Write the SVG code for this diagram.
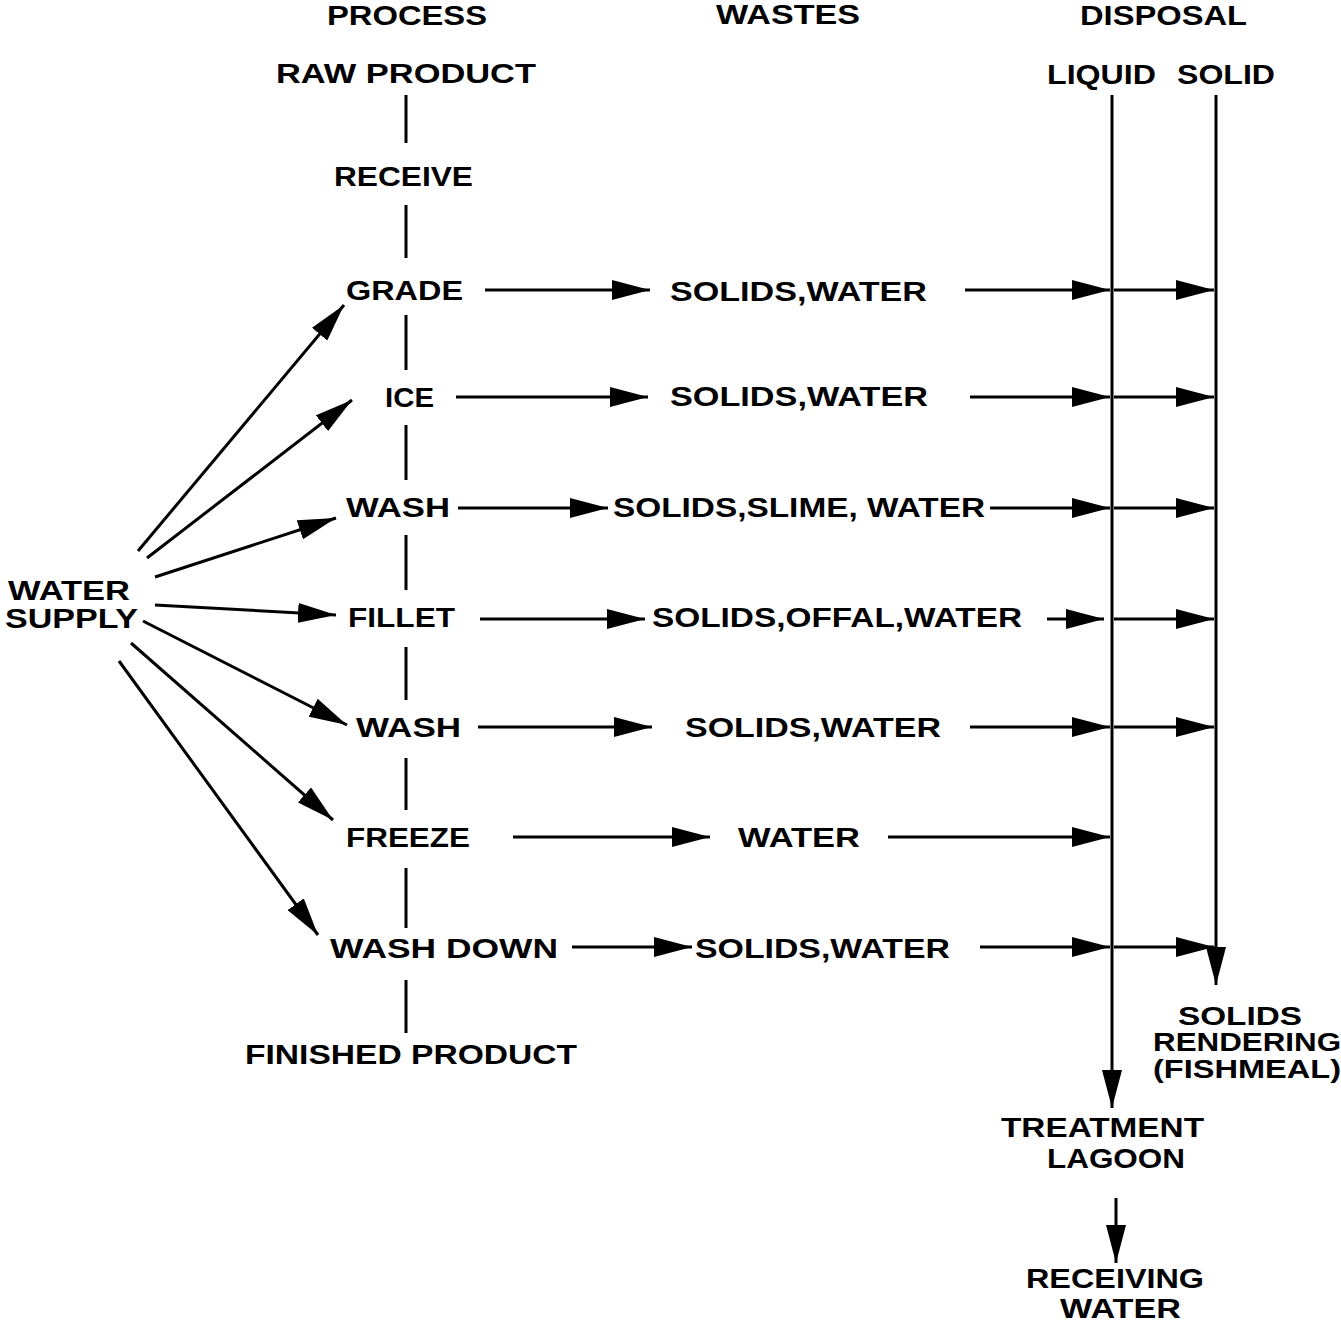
<svg xmlns="http://www.w3.org/2000/svg" width="1341" height="1328" viewBox="0 0 1341 1328">
<style>
text{font-family:"Liberation Sans",Arial,sans-serif;font-weight:bold;font-size:27px;fill:#000}
.s{font-size:25px}
.l{stroke:#000;stroke-width:3;fill:none}
.a{stroke:#000;stroke-width:3;fill:none;marker-end:url(#ah)}
</style>
<defs>
<marker id="ah" viewBox="0 0 38 20" refX="38" refY="10" markerWidth="38" markerHeight="20" markerUnits="userSpaceOnUse" orient="auto">
<path d="M0,0 L38,10 L0,20 z" fill="#000"/>
</marker>
</defs>
<rect width="1341" height="1328" fill="#fff"/>
<g id="headers">
<text x="327" y="25" textLength="160" lengthAdjust="spacingAndGlyphs">PROCESS</text>
<text x="716" y="24" textLength="144" lengthAdjust="spacingAndGlyphs">WASTES</text>
<text x="1080" y="25" textLength="167" lengthAdjust="spacingAndGlyphs">DISPOSAL</text>
</g>
<g id="raw-product"><text x="276" y="83" textLength="260" lengthAdjust="spacingAndGlyphs">RAW PRODUCT</text></g>
<g id="liquid"><text x="1047" y="84" textLength="109" lengthAdjust="spacingAndGlyphs">LIQUID</text></g>
<g id="solid"><text x="1177" y="84" textLength="98" lengthAdjust="spacingAndGlyphs">SOLID</text></g>
<g id="receive"><text x="334" y="186" textLength="139" lengthAdjust="spacingAndGlyphs">RECEIVE</text></g>
<g id="grade"><text x="346" y="300" textLength="117" lengthAdjust="spacingAndGlyphs">GRADE</text></g>
<g id="ice"><text x="385" y="407" textLength="49" lengthAdjust="spacingAndGlyphs">ICE</text></g>
<g id="wash1"><text x="346" y="517" textLength="104" lengthAdjust="spacingAndGlyphs">WASH</text></g>
<g id="fillet"><text x="348" y="627" textLength="107" lengthAdjust="spacingAndGlyphs">FILLET</text></g>
<g id="wash2"><text x="356" y="737" textLength="105" lengthAdjust="spacingAndGlyphs">WASH</text></g>
<g id="freeze"><text x="346" y="847" textLength="124" lengthAdjust="spacingAndGlyphs">FREEZE</text></g>
<g id="wash-down"><text x="330" y="958" textLength="228" lengthAdjust="spacingAndGlyphs">WASH DOWN</text></g>
<g id="finished-product"><text x="245" y="1064" textLength="332" lengthAdjust="spacingAndGlyphs">FINISHED PRODUCT</text></g>
<g id="waste-grade"><text x="670" y="301" textLength="257" lengthAdjust="spacingAndGlyphs">SOLIDS,WATER</text></g>
<g id="waste-ice"><text x="670" y="406" textLength="258" lengthAdjust="spacingAndGlyphs">SOLIDS,WATER</text></g>
<g id="waste-wash1"><text x="613" y="517" textLength="372" lengthAdjust="spacingAndGlyphs">SOLIDS,SLIME, WATER</text></g>
<g id="waste-fillet"><text x="652" y="627" textLength="370" lengthAdjust="spacingAndGlyphs">SOLIDS,OFFAL,WATER</text></g>
<g id="waste-wash2"><text x="685" y="737" textLength="256" lengthAdjust="spacingAndGlyphs">SOLIDS,WATER</text></g>
<g id="waste-freeze"><text x="738" y="847" textLength="122" lengthAdjust="spacingAndGlyphs">WATER</text></g>
<g id="waste-washdown"><text x="695" y="958" textLength="255" lengthAdjust="spacingAndGlyphs">SOLIDS,WATER</text></g>
<g id="water-supply">
<text x="8" y="600" textLength="122" lengthAdjust="spacingAndGlyphs">WATER</text>
<text x="5" y="628" textLength="133" lengthAdjust="spacingAndGlyphs">SUPPLY</text>
</g>
<g id="solids-rendering">
<text class="s" x="1178" y="1025" textLength="124" lengthAdjust="spacingAndGlyphs">SOLIDS</text>
<text class="s" x="1153" y="1051" textLength="188" lengthAdjust="spacingAndGlyphs">RENDERING</text>
<text class="s" x="1153" y="1078" textLength="188" lengthAdjust="spacingAndGlyphs">(FISHMEAL)</text>
</g>
<g id="treatment-lagoon">
<text x="1001" y="1137" textLength="203" lengthAdjust="spacingAndGlyphs">TREATMENT</text>
<text x="1047" y="1168" textLength="138" lengthAdjust="spacingAndGlyphs">LAGOON</text>
</g>
<g id="receiving-water">
<text x="1026" y="1288" textLength="178" lengthAdjust="spacingAndGlyphs">RECEIVING</text>
<text x="1060" y="1318" textLength="121" lengthAdjust="spacingAndGlyphs">WATER</text>
</g>
<g id="connectors">
<path class="l" d="M406,95V143M406,205V258M406,315V370M406,425V480M406,535V590M406,647V700M406,758V810M406,868V928M406,980V1033"/>
<path class="a" d="M1112,95V1108"/>
<path class="a" d="M1216,95V985"/>
<path class="a" d="M1116,1198V1263"/>
<path class="a" d="M485,290H650"/>
<path class="a" d="M965,290H1110"/>
<path class="a" d="M1114,290H1214"/>
<path class="a" d="M456,397H648"/>
<path class="a" d="M970,397H1110"/>
<path class="a" d="M1114,397H1214"/>
<path class="a" d="M458,508H608"/>
<path class="a" d="M990,508H1110"/>
<path class="a" d="M1114,508H1214"/>
<path class="a" d="M480,619H645"/>
<path class="a" d="M1047,619H1104"/>
<path class="a" d="M1114,619H1214"/>
<path class="a" d="M478,727H652"/>
<path class="a" d="M970,727H1110"/>
<path class="a" d="M1114,727H1214"/>
<path class="a" d="M513,837H710"/>
<path class="a" d="M888,837H1110"/>
<path class="a" d="M572,947H692"/>
<path class="a" d="M980,947H1110"/>
<path class="a" d="M1114,947H1214"/>
<path class="a" d="M138,551L344,305"/>
<path class="a" d="M147,558L352,400"/>
<path class="a" d="M155,577L336,518"/>
<path class="a" d="M155,605L336,615"/>
<path class="a" d="M143,621L347,725"/>
<path class="a" d="M131,643L333,820"/>
<path class="a" d="M119,661L318,935"/>
</g>
</svg>
